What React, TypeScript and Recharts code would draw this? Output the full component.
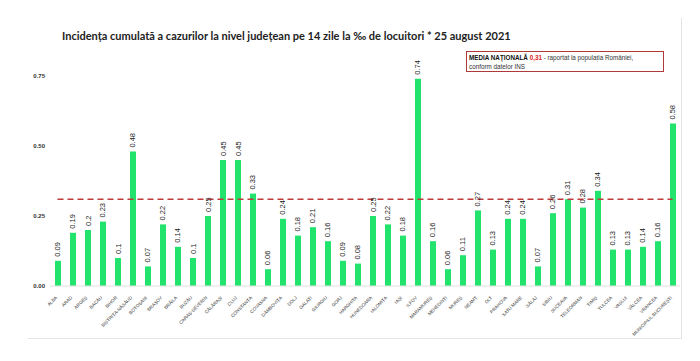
import React from "react";
import { BarChart, Bar, XAxis, YAxis, ReferenceLine, LabelList } from "recharts";

const counties = [
  "ALBA", "ARAD", "ARGEȘ", "BACĂU", "BIHOR", "BISTRIȚA-NĂSĂUD", "BOTOȘANI", "BRAȘOV", "BRĂILA", "BUZĂU",
  "CARAȘ-SEVERIN", "CĂLĂRAȘI", "CLUJ", "CONSTANȚA", "COVASNA", "DÂMBOVIȚA", "DOLJ", "GALAȚI", "GIURGIU", "GORJ",
  "HARGHITA", "HUNEDOARA", "IALOMIȚA", "IAȘI", "ILFOV", "MARAMUREȘ", "MEHEDINȚI", "MUREȘ", "NEAMȚ", "OLT",
  "PRAHOVA", "SATU MARE", "SĂLAJ", "SIBIU", "SUCEAVA", "TELEORMAN", "TIMIȘ", "TULCEA", "VASLUI", "VÂLCEA",
  "VRANCEA", "MUNICIPIUL BUCUREȘTI",
];

const incidence = [
  0.09, 0.19, 0.2, 0.23, 0.1, 0.48, 0.07, 0.22, 0.14, 0.1,
  0.25, 0.45, 0.45, 0.33, 0.06, 0.24, 0.18, 0.21, 0.16, 0.09,
  0.08, 0.25, 0.22, 0.18, 0.74, 0.16, 0.06, 0.11, 0.27, 0.13,
  0.24, 0.24, 0.07, 0.26, 0.31, 0.28, 0.34, 0.13, 0.13, 0.14,
  0.16, 0.58,
];

const yTicks = [0, 0.25, 0.5, 0.75];
const nationalAverage = 0.31;

const title = "Incidența cumulată a cazurilor la nivel județean pe 14 zile la ‰ de locuitori * 25 august 2021";

const data = counties.map((c, i) => ({ county: c, value: incidence[i] }));

const XTick = (props: any) => {
  const { x, y, payload } = props;
  return (
    <text
      x={x}
      y={y + 4}
      transform={`rotate(-45, ${x}, ${y + 4})`}
      textAnchor="end"
      fontSize={4.6}
      fontFamily="Liberation Sans, Arial, sans-serif"
      fill="#333"
    >
      {payload.value}
    </text>
  );
};

const ValueLabel = (props: any) => {
  const { x, y, width, value } = props;
  const cx = x + width / 2;
  const cy = y - 4;
  return (
    <text
      x={cx}
      y={cy}
      transform={`rotate(-90, ${cx}, ${cy})`}
      textAnchor="start"
      dominantBaseline="central"
      fontSize={7.5}
      fontFamily="Liberation Sans Narrow, Liberation Sans, Arial, sans-serif"
      fill="#222"
    >
      {value}
    </text>
  );
};

export default function App() {
  return (
    <div style={{ position: "absolute", left: 0, top: 0, width: 700, height: 361, background: "#fff" }}>
      <div
        style={{
          position: "absolute",
          left: 62,
          top: 29,
          fontFamily: "Lato, 'Open Sans', sans-serif",
          fontWeight: 700,
          fontSize: 11,
          color: "#222",
          whiteSpace: "nowrap",
        }}
      >
        {title}
      </div>
      <div
        style={{
          position: "absolute",
          left: 466,
          top: 51,
          width: 192,
          height: 17,
          border: "1px solid #b03a3a",
          padding: "1px 2px",
          fontFamily: "'Liberation Sans', Arial, sans-serif",
          fontSize: 6.3,
          lineHeight: "9px",
          color: "#333",
          background: "#fff",
          zIndex: 2,
        }}
      >
        <span style={{ fontWeight: 700, color: "#111" }}>MEDIA NAȚIONALĂ </span>
        <span style={{ fontWeight: 700, color: "#d22" }}>0,31</span>
        <span> - raportat la populația României,</span>
        <br />
        <span>conform datelor INS</span>
      </div>
      <div
        style={{
          position: "absolute",
          left: 28,
          top: 18,
          width: 653,
          height: 320,
          borderRight: "1px solid #e4e4e4",
          borderBottom: "1px solid #e4e4e4",
        }}
      />
      <div style={{ position: "absolute", left: 0, top: 0 }}>
        <BarChart
          width={700}
          height={361}
          data={data}
          margin={{ top: 62, right: 20, left: 0, bottom: 0 }}
          barCategoryGap={0}
        >
          <XAxis
            dataKey="county"
            interval={0}
            height={75}
            tick={<XTick />}
            tickLine={false}
            axisLine={{ stroke: "#e0e0e0" }}
          />
          <YAxis
            width={50}
            domain={[0, 0.8]}
            ticks={yTicks}
            tickFormatter={(v: number) => v.toFixed(2)}
            tickLine={false}
            axisLine={false}
            tickSize={0}
            tickMargin={5}
            tick={{ fontSize: 6, fontWeight: 700, fill: "#333", fontFamily: "Liberation Sans, Arial, sans-serif" }}
          />
          <Bar dataKey="value" fill="#22e36b" barSize={6} isAnimationActive={false}>
            <LabelList dataKey="value" content={<ValueLabel />} />
          </Bar>
          <ReferenceLine
            segment={[
              { x: counties[0], y: nationalAverage },
              { x: counties[counties.length - 1], y: nationalAverage },
            ]}
            stroke="#c0393b"
            strokeWidth={1.5}
            strokeDasharray="6 4"
          />
        </BarChart>
      </div>
    </div>
  );
}
